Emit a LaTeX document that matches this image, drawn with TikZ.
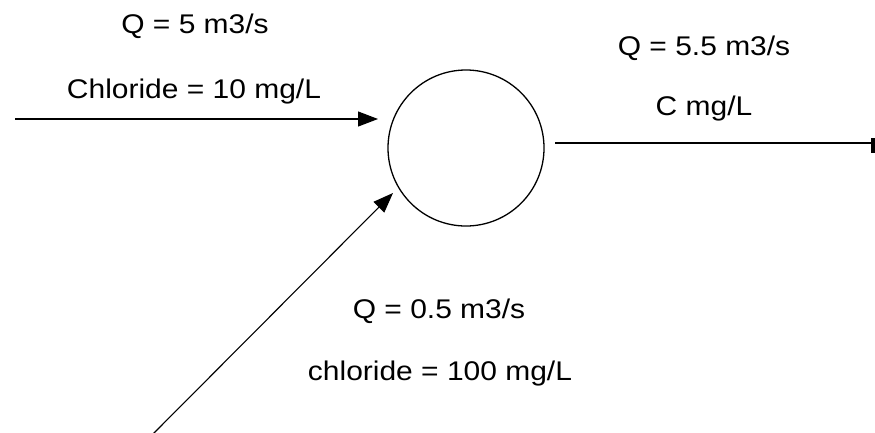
\documentclass[tikz,border=0pt]{standalone}
\usepackage{fontspec}
\setmainfont{Liberation Sans}
\usetikzlibrary{arrows.meta}
\begin{document}
\begin{tikzpicture}[x=1pt,y=-1pt,
  lbl/.style={anchor=base,inner sep=0pt,font=\fontsize{27}{30}\selectfont},
  flow/.style={line width=1.1pt,-{Triangle[length=20pt,width=15pt]}},
  plain/.style={line width=1.1pt}]
\useasboundingbox (0,0) rectangle (875,432);
\node[draw,circle,line width=1.3pt,minimum size=156pt,inner sep=0pt] (mix) at (466,148) {};
% free ends
\coordinate (srcA) at (15,119);
\coordinate (tipA) at (378,119);
\coordinate (srcB) at (153,434);
\coordinate (tipB) at (393,193);
\coordinate (outA) at (555,143);
\node[fill=black,inner sep=0pt,minimum width=4pt,minimum height=15pt] (endC) at (873,145) {};
\draw[flow] (srcA) -- (tipA);
\draw[flow] (srcB) -- (tipB);
\draw[plain] (outA) -- (endC.west |- outA);
% labels
\node[lbl] (t1) at (195,33) {\scalebox{1.11}[1]{Q = 5 m3/s}};
\node[lbl] (t2) at (194,98) {\scalebox{1.11}[1]{Chloride = 10 mg/L}};
\node[lbl] (t3) at (704,55) {\scalebox{1.11}[1]{Q = 5.5 m3/s}};
\node[lbl] (t4) at (704,115) {\scalebox{1.11}[1]{C mg/L}};
\node[lbl] (t5) at (439,318) {\scalebox{1.11}[1]{Q = 0.5 m3/s}};
\node[lbl] (t6) at (440,380) {\scalebox{1.11}[1]{chloride = 100 mg/L}};
\end{tikzpicture}
\end{document}
